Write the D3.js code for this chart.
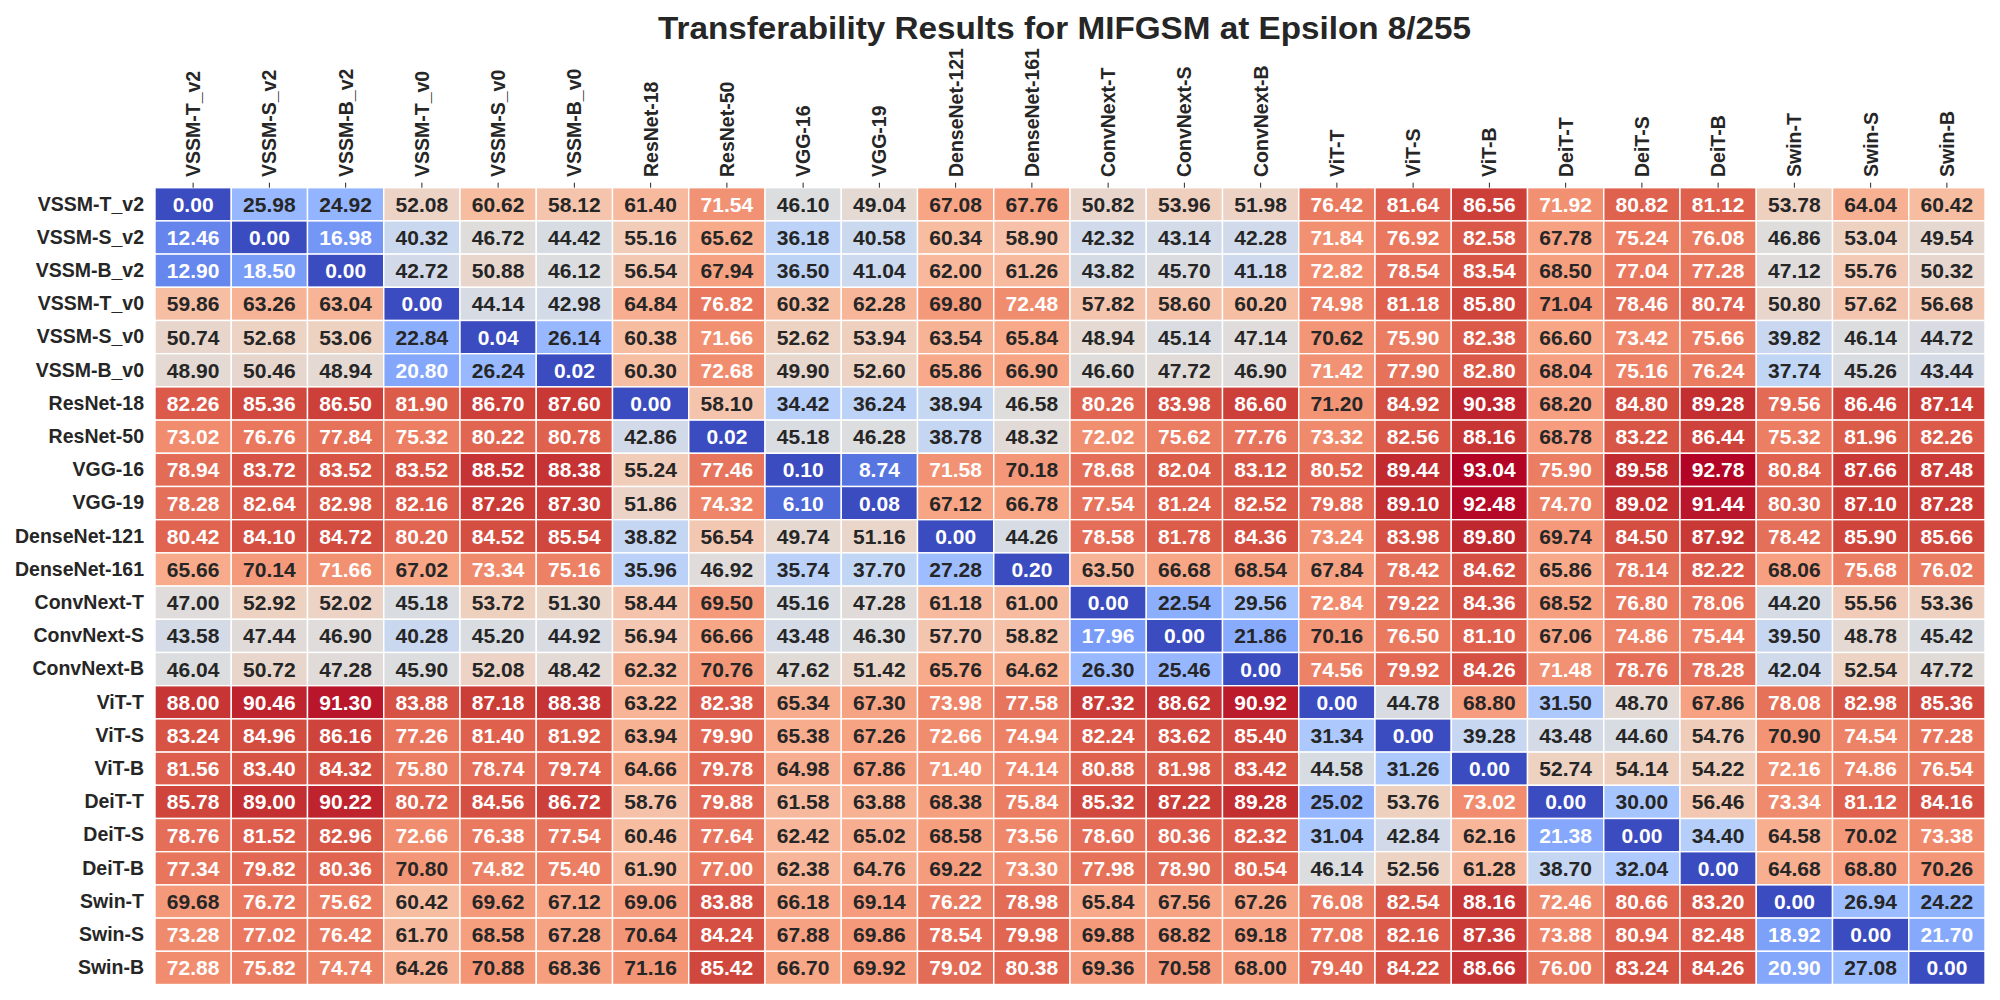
<!DOCTYPE html>
<html>
<head>
<meta charset="utf-8">
<script src="https://cdn.jsdelivr.net/npm/d3@7"></script>
<style>
  body { margin: 0; background: #fff; }
  svg { font-family: "Liberation Sans", Arial, Helvetica, sans-serif; }
</style>
</head>
<body>
<svg id="chart" width="2000" height="1000"></svg>
<script>
// model names (rows = source, columns = target)
const models = ["VSSM-T_v2", "VSSM-S_v2", "VSSM-B_v2", "VSSM-T_v0", "VSSM-S_v0", "VSSM-B_v0",
  "ResNet-18", "ResNet-50", "VGG-16", "VGG-19", "DenseNet-121", "DenseNet-161",
  "ConvNext-T", "ConvNext-S", "ConvNext-B", "ViT-T", "ViT-S", "ViT-B",
  "DeiT-T", "DeiT-S", "DeiT-B", "Swin-T", "Swin-S", "Swin-B"];

const values = [
  [0.00, 25.98, 24.92, 52.08, 60.62, 58.12, 61.40, 71.54, 46.10, 49.04, 67.08, 67.76, 50.82, 53.96, 51.98, 76.42, 81.64, 86.56, 71.92, 80.82, 81.12, 53.78, 64.04, 60.42],
  [12.46, 0.00, 16.98, 40.32, 46.72, 44.42, 55.16, 65.62, 36.18, 40.58, 60.34, 58.90, 42.32, 43.14, 42.28, 71.84, 76.92, 82.58, 67.78, 75.24, 76.08, 46.86, 53.04, 49.54],
  [12.90, 18.50, 0.00, 42.72, 50.88, 46.12, 56.54, 67.94, 36.50, 41.04, 62.00, 61.26, 43.82, 45.70, 41.18, 72.82, 78.54, 83.54, 68.50, 77.04, 77.28, 47.12, 55.76, 50.32],
  [59.86, 63.26, 63.04, 0.00, 44.14, 42.98, 64.84, 76.82, 60.32, 62.28, 69.80, 72.48, 57.82, 58.60, 60.20, 74.98, 81.18, 85.80, 71.04, 78.46, 80.74, 50.80, 57.62, 56.68],
  [50.74, 52.68, 53.06, 22.84, 0.04, 26.14, 60.38, 71.66, 52.62, 53.94, 63.54, 65.84, 48.94, 45.14, 47.14, 70.62, 75.90, 82.38, 66.60, 73.42, 75.66, 39.82, 46.14, 44.72],
  [48.90, 50.46, 48.94, 20.80, 26.24, 0.02, 60.30, 72.68, 49.90, 52.60, 65.86, 66.90, 46.60, 47.72, 46.90, 71.42, 77.90, 82.80, 68.04, 75.16, 76.24, 37.74, 45.26, 43.44],
  [82.26, 85.36, 86.50, 81.90, 86.70, 87.60, 0.00, 58.10, 34.42, 36.24, 38.94, 46.58, 80.26, 83.98, 86.60, 71.20, 84.92, 90.38, 68.20, 84.80, 89.28, 79.56, 86.46, 87.14],
  [73.02, 76.76, 77.84, 75.32, 80.22, 80.78, 42.86, 0.02, 45.18, 46.28, 38.78, 48.32, 72.02, 75.62, 77.76, 73.32, 82.56, 88.16, 68.78, 83.22, 86.44, 75.32, 81.96, 82.26],
  [78.94, 83.72, 83.52, 83.52, 88.52, 88.38, 55.24, 77.46, 0.10, 8.74, 71.58, 70.18, 78.68, 82.04, 83.12, 80.52, 89.44, 93.04, 75.90, 89.58, 92.78, 80.84, 87.66, 87.48],
  [78.28, 82.64, 82.98, 82.16, 87.26, 87.30, 51.86, 74.32, 6.10, 0.08, 67.12, 66.78, 77.54, 81.24, 82.52, 79.88, 89.10, 92.48, 74.70, 89.02, 91.44, 80.30, 87.10, 87.28],
  [80.42, 84.10, 84.72, 80.20, 84.52, 85.54, 38.82, 56.54, 49.74, 51.16, 0.00, 44.26, 78.58, 81.78, 84.36, 73.24, 83.98, 89.80, 69.74, 84.50, 87.92, 78.42, 85.90, 85.66],
  [65.66, 70.14, 71.66, 67.02, 73.34, 75.16, 35.96, 46.92, 35.74, 37.70, 27.28, 0.20, 63.50, 66.68, 68.54, 67.84, 78.42, 84.62, 65.86, 78.14, 82.22, 68.06, 75.68, 76.02],
  [47.00, 52.92, 52.02, 45.18, 53.72, 51.30, 58.44, 69.50, 45.16, 47.28, 61.18, 61.00, 0.00, 22.54, 29.56, 72.84, 79.22, 84.36, 68.52, 76.80, 78.06, 44.20, 55.56, 53.36],
  [43.58, 47.44, 46.90, 40.28, 45.20, 44.92, 56.94, 66.66, 43.48, 46.30, 57.70, 58.82, 17.96, 0.00, 21.86, 70.16, 76.50, 81.10, 67.06, 74.86, 75.44, 39.50, 48.78, 45.42],
  [46.04, 50.72, 47.28, 45.90, 52.08, 48.42, 62.32, 70.76, 47.62, 51.42, 65.76, 64.62, 26.30, 25.46, 0.00, 74.56, 79.92, 84.26, 71.48, 78.76, 78.28, 42.04, 52.54, 47.72],
  [88.00, 90.46, 91.30, 83.88, 87.18, 88.38, 63.22, 82.38, 65.34, 67.30, 73.98, 77.58, 87.32, 88.62, 90.92, 0.00, 44.78, 68.80, 31.50, 48.70, 67.86, 78.08, 82.98, 85.36],
  [83.24, 84.96, 86.16, 77.26, 81.40, 81.92, 63.94, 79.90, 65.38, 67.26, 72.66, 74.94, 82.24, 83.62, 85.40, 31.34, 0.00, 39.28, 43.48, 44.60, 54.76, 70.90, 74.54, 77.28],
  [81.56, 83.40, 84.32, 75.80, 78.74, 79.74, 64.66, 79.78, 64.98, 67.86, 71.40, 74.14, 80.88, 81.98, 83.42, 44.58, 31.26, 0.00, 52.74, 54.14, 54.22, 72.16, 74.86, 76.54],
  [85.78, 89.00, 90.22, 80.72, 84.56, 86.72, 58.76, 79.88, 61.58, 63.88, 68.38, 75.84, 85.32, 87.22, 89.28, 25.02, 53.76, 73.02, 0.00, 30.00, 56.46, 73.34, 81.12, 84.16],
  [78.76, 81.52, 82.96, 72.66, 76.38, 77.54, 60.46, 77.64, 62.42, 65.02, 68.58, 73.56, 78.60, 80.36, 82.32, 31.04, 42.84, 62.16, 21.38, 0.00, 34.40, 64.58, 70.02, 73.38],
  [77.34, 79.82, 80.36, 70.80, 74.82, 75.40, 61.90, 77.00, 62.38, 64.76, 69.22, 73.30, 77.98, 78.90, 80.54, 46.14, 52.56, 61.28, 38.70, 32.04, 0.00, 64.68, 68.80, 70.26],
  [69.68, 76.72, 75.62, 60.42, 69.62, 67.12, 69.06, 83.88, 66.18, 69.14, 76.22, 78.98, 65.84, 67.56, 67.26, 76.08, 82.54, 88.16, 72.46, 80.66, 83.20, 0.00, 26.94, 24.22],
  [73.28, 77.02, 76.42, 61.70, 68.58, 67.28, 70.64, 84.24, 67.88, 69.86, 78.54, 79.98, 69.88, 68.82, 69.18, 77.08, 82.16, 87.36, 73.88, 80.94, 82.48, 18.92, 0.00, 21.70],
  [72.88, 75.82, 74.74, 64.26, 70.88, 68.36, 71.16, 85.42, 66.70, 69.92, 79.02, 80.38, 69.36, 70.58, 68.00, 79.40, 84.22, 88.66, 76.00, 83.24, 84.26, 20.90, 27.08, 0.00]
];

// coolwarm control colours (Moreland), evenly spaced
const coolwarm = [
  [59,76,192],[68,90,204],[77,104,215],[87,117,225],[98,130,234],[108,142,241],
  [119,154,247],[130,165,251],[141,176,254],[152,185,255],[163,194,255],[174,201,253],
  [184,208,249],[194,213,244],[204,217,238],[213,219,230],[221,221,221],[229,216,209],
  [236,211,197],[241,204,184],[245,196,172],[247,187,159],[247,177,147],[247,166,134],
  [244,154,123],[241,141,111],[236,127,99],[229,112,89],[222,96,77],[213,80,66],
  [203,62,56],[192,40,47],[180,4,38]
].map(c => d3.rgb(c[0], c[1], c[2]).toString());

const interp = d3.piecewise(d3.interpolateRgb, coolwarm);
const flat = values.flat();
const norm = d3.scaleLinear().domain([d3.min(flat), d3.max(flat)]).clamp(true);
// 256-level lookup like a matplotlib colormap
function cellColor(v) {
  const i = Math.min(255, Math.floor(norm(v) * 256));
  return interp(i / 255);
}
function luminance(c) {
  const rgb = d3.rgb(c);
  const lin = [rgb.r, rgb.g, rgb.b].map(u => {
    u /= 255;
    return u <= 0.03928 ? u / 12.92 : Math.pow((u + 0.055) / 1.055, 2.4);
  });
  return 0.2126 * lin[0] + 0.7152 * lin[1] + 0.0722 * lin[2];
}

const svg = d3.select("#chart");
const gridLeft = 155, gridRight = 1985, gridTop = 187.7, gridBottom = 984.5;
const ink = "#262626";

const x = d3.scaleBand().domain(models).range([gridLeft, gridRight]);
const y = d3.scaleBand().domain(models).range([gridTop, gridBottom]);

const cells = [];
values.forEach((row, r) => row.forEach((v, c) => cells.push({ src: models[r], tgt: models[c], v })));

svg.append("g").selectAll("rect")
  .data(cells)
  .join("rect")
  .attr("x", d => x(d.tgt))
  .attr("y", d => y(d.src))
  .attr("width", x.bandwidth())
  .attr("height", y.bandwidth())
  .attr("fill", d => cellColor(d.v))
  .attr("stroke", "#fff")
  .attr("stroke-width", 1.4);

svg.append("g").selectAll("text")
  .data(cells)
  .join("text")
  .attr("x", d => x(d.tgt) + x.bandwidth() / 2)
  .attr("y", d => y(d.src) + y.bandwidth() / 2)
  .attr("dy", "0.36em")
  .attr("text-anchor", "middle")
  .attr("font-size", 21)
  .attr("font-weight", "bold")
  .attr("fill", d => luminance(cellColor(d.v)) > 0.408 ? ink : "#fff")
  .text(d => d.v.toFixed(2));

// top axis: target models
const xAxis = svg.append("g")
  .attr("transform", `translate(0,${gridTop})`)
  .call(d3.axisTop(x).tickSize(5).tickPadding(6));
xAxis.select(".domain").remove();
xAxis.selectAll("line").attr("stroke", ink).attr("stroke-width", 1);
xAxis.selectAll("text")
  .attr("transform", "rotate(-90)")
  .attr("x", 10.7)
  .attr("y", 0)
  .attr("dy", "0.36em")
  .attr("text-anchor", "start")
  .attr("font-size", 19.5)
  .attr("font-weight", "bold")
  .attr("font-family", "Liberation Sans, Arial, sans-serif")
  .attr("fill", ink);

// left axis: source models
const yAxis = svg.append("g")
  .attr("transform", `translate(${gridLeft},0)`)
  .call(d3.axisLeft(y).tickSize(0).tickPadding(11));
yAxis.select(".domain").remove();
yAxis.selectAll("text")
  .attr("font-size", 19.5)
  .attr("font-weight", "bold")
  .attr("font-family", "Liberation Sans, Arial, sans-serif")
  .attr("fill", ink);

svg.append("text")
  .attr("x", 1064.5)
  .attr("y", 39)
  .attr("text-anchor", "middle")
  .attr("font-size", 32)
  .attr("font-weight", "bold")
  .attr("fill", ink)
  .attr("textLength", 813)
  .attr("lengthAdjust", "spacingAndGlyphs")
  .text("Transferability Results for MIFGSM at Epsilon 8/255");
</script>
</body>
</html>
